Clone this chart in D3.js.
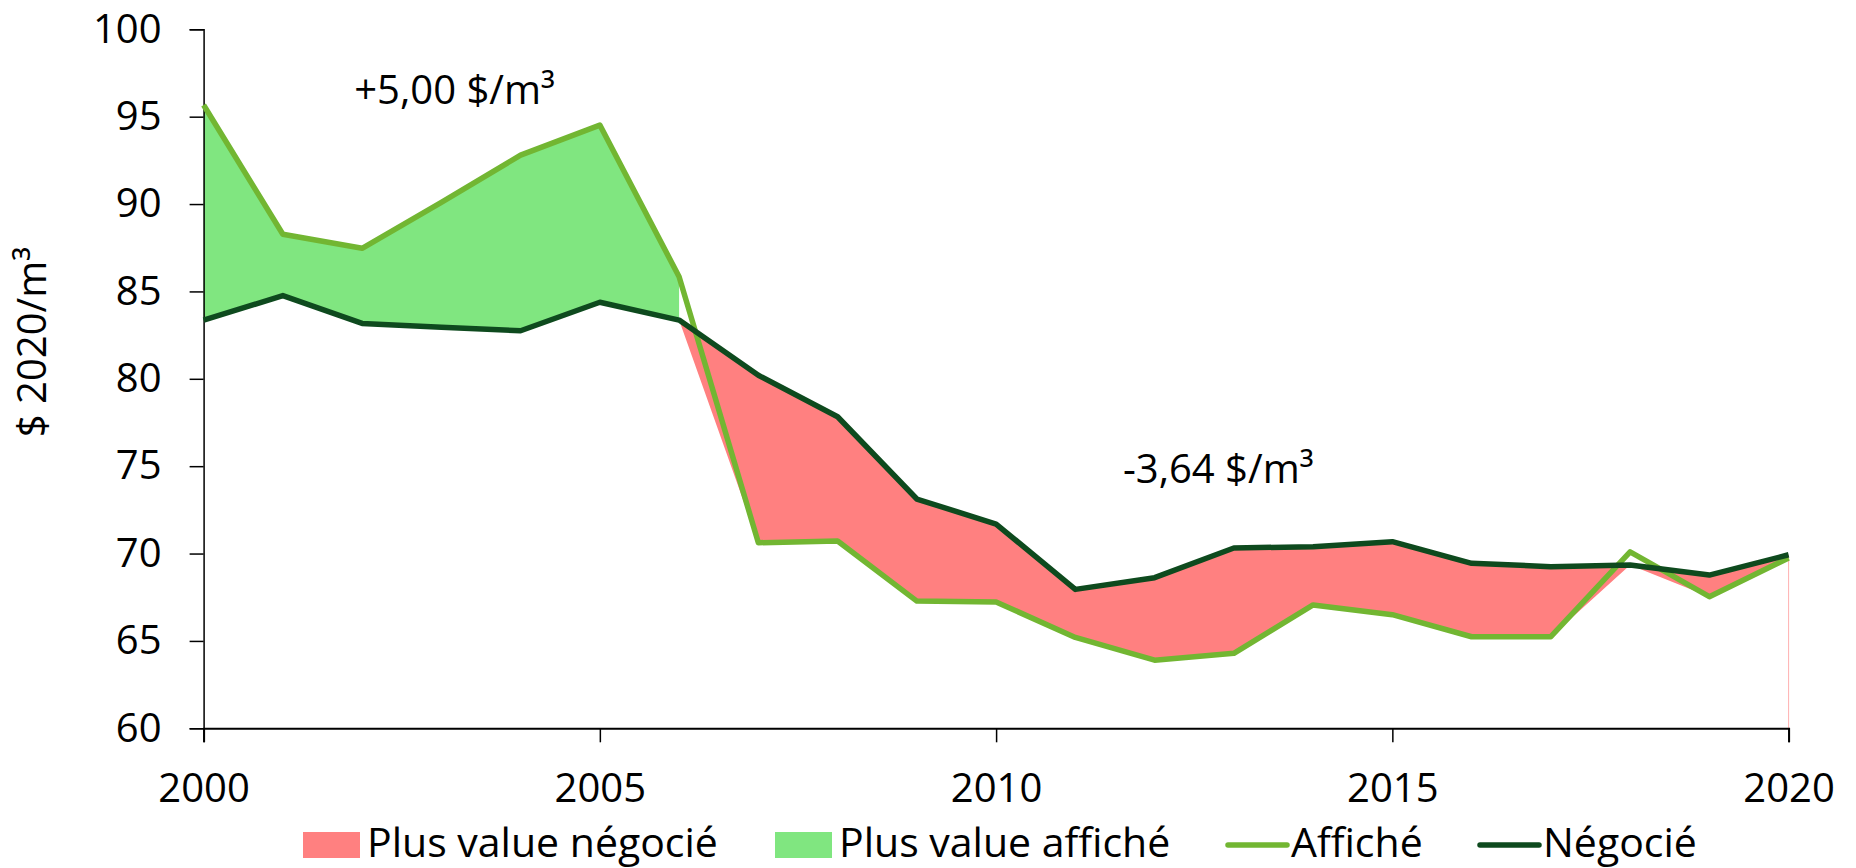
<!DOCTYPE html>
<html>
<head>
<meta charset="utf-8">
<script src="https://cdn.jsdelivr.net/npm/d3@7"></script>
<style>
  html, body { margin: 0; padding: 0; background: #ffffff; }
  svg { display: block; }
  text { font-family: "Open Sans", "Noto Sans", sans-serif; fill: #000; }
</style>
</head>
<body>
<svg id="chart" width="1856" height="868"></svg>
<script>
// ---- Data ----
const years = [2000, 2001, 2002, 2003, 2004, 2005, 2006, 2007, 2008, 2009, 2010,
               2011, 2012, 2013, 2014, 2015, 2016, 2017, 2018, 2019, 2020];
const affiche = [95.67, 88.27, 87.47, 90.1, 92.8, 94.52, 85.84, 70.62, 70.72, 67.28, 67.23,
                 65.2, 63.9, 64.29, 67.06, 66.5, 65.24, 65.24, 70.1, 67.53, 69.75];
const negocie = [83.36, 84.76, 83.17, 82.95, 82.75, 84.38, 83.36, 80.2, 77.83, 73.12, 71.69,
                 67.95, 68.62, 70.32, 70.39, 70.68, 69.44, 69.25, 69.34, 68.77, 69.93];
const yTicks = [60, 65, 70, 75, 80, 85, 90, 95, 100];
const xTicks = [2000, 2005, 2010, 2015, 2020];
const yTitle = "$ 2020/m³";
const annotations = [
  { text: "+5,00 $/m³", year: 2001.9, value: 95.7 },
  { text: "-3,64 $/m³", year: 2011.6, value: 74.05 }
];
const legendItems = [
  { label: "Plus value négocié", type: "rect", color: "#ff8080" },
  { label: "Plus value affiché", type: "rect", color: "#80e680" },
  { label: "Affiché", type: "line", color: "#72b632" },
  { label: "Négocié", type: "line", color: "#0e4a1e" }
];

// ---- Layout ----
const svg = d3.select("#chart");
const x = d3.scaleLinear().domain([2000, 2020]).range([203.6, 1788.6]);
const y = d3.scaleLinear().domain([60, 100]).range([728.3, 29.3]);

const rows = years.map((yr, i) => ({ year: yr, a: affiche[i], n: negocie[i] }));
const greenRows = rows.filter(d => d.year <= 2006);
const redRows = rows.filter(d => d.year >= 2006);

// Areas
const greenArea = d3.area()
  .x(d => x(d.year))
  .y0(d => y(d.n))
  .y1(d => y(d.a));
svg.append("path").datum(greenRows)
  .attr("d", greenArea)
  .attr("fill", "#80e680");

const redArea = d3.area()
  .x(d => x(d.year))
  .y0(d => y(Math.min(d.a, d.n)))
  .y1(d => y(d.n));
svg.append("path").datum(redRows)
  .attr("d", redArea)
  .attr("fill", "#ff8080");

// thin edge at the last year down to baseline
const last = rows[rows.length - 1];
svg.append("line")
  .attr("x1", x(last.year)).attr("x2", x(last.year))
  .attr("y1", y(Math.min(last.a, last.n))).attr("y2", y(60))
  .attr("stroke", "#ffb0b0").attr("stroke-width", 1);

// Axes
const yAxis = d3.axisLeft(y).tickValues(yTicks).tickSize(14).tickPadding(28)
  .tickFormat(d3.format("d"));
const gy = svg.append("g").attr("transform", `translate(${x(2000)},0)`).call(yAxis);
gy.select(".domain").attr("stroke", "#000").attr("stroke-width", 1.5);
gy.selectAll(".tick line").attr("stroke", "#000").attr("stroke-width", 1.5);
gy.selectAll(".tick text").attr("font-size", 40).attr("fill", "#000")
  .style("font-family", '"Open Sans", sans-serif');

const xAxis = d3.axisBottom(x).tickValues(xTicks).tickSize(14).tickPadding(31)
  .tickFormat(d3.format("d"));
const gx = svg.append("g").attr("transform", `translate(0,${y(60)})`).call(xAxis);
gx.select(".domain").attr("stroke", "#000").attr("stroke-width", 2);
gx.selectAll(".tick line").attr("stroke", "#000").attr("stroke-width", 1.5);
gx.selectAll(".tick text").attr("font-size", 40).attr("fill", "#000")
  .style("font-family", '"Open Sans", sans-serif');

// Lines
const lineA = d3.line().x(d => x(d.year)).y(d => y(d.a));
const lineN = d3.line().x(d => x(d.year)).y(d => y(d.n));
svg.append("path").datum(rows).attr("d", lineA)
  .attr("fill", "none").attr("stroke", "#72b632").attr("stroke-width", 5.5)
  .attr("stroke-linejoin", "round");
svg.append("path").datum(rows).attr("d", lineN)
  .attr("fill", "none").attr("stroke", "#0e4a1e").attr("stroke-width", 5.5)
  .attr("stroke-linejoin", "round");

// Y title
svg.append("text")
  .attr("transform", `translate(46,342) rotate(-90)`)
  .attr("text-anchor", "middle")
  .attr("font-size", 40)
  .text(yTitle);

// Annotations
svg.selectAll("text.annot").data(annotations).enter().append("text")
  .attr("class", "annot")
  .attr("x", d => x(d.year))
  .attr("y", d => y(d.value))
  .attr("font-size", 40)
  .text(d => d.text);

// Legend
const legendX = [303, 775, 1226, 1478];
const legendY = 843;
const lg = svg.append("g");
legendItems.forEach((it, i) => {
  const g = lg.append("g").attr("transform", `translate(${legendX[i]},${legendY})`);
  if (it.type === "rect") {
    g.append("rect").attr("x", 0).attr("y", -11).attr("width", 57).attr("height", 26)
      .attr("fill", it.color);
    g.append("text").attr("x", 64).attr("y", 0).attr("dy", "0.33em")
      .attr("font-size", 41).text(it.label);
  } else {
    g.append("line").attr("x1", 2).attr("x2", 61).attr("y1", 2).attr("y2", 2)
      .attr("stroke", it.color).attr("stroke-width", 5.5).attr("stroke-linecap", "round");
    g.append("text").attr("x", 65).attr("y", 0).attr("dy", "0.33em")
      .attr("font-size", 41).text(it.label);
  }
});
</script>
</body>
</html>
